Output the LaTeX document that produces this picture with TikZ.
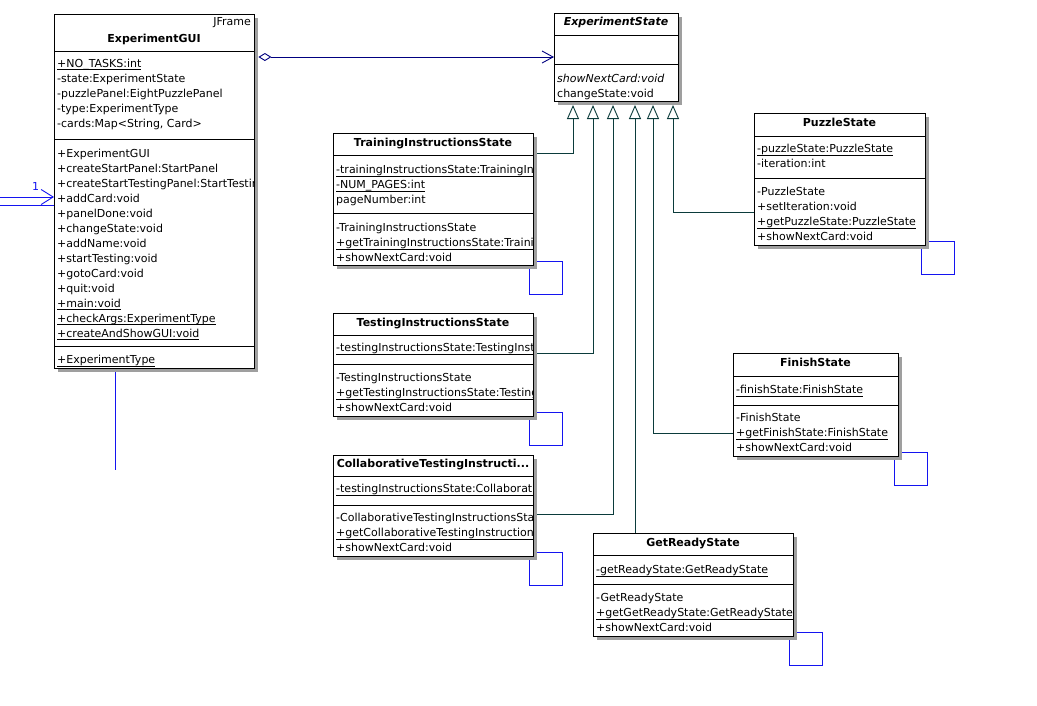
\documentclass[tikz,border=0pt]{standalone}
\usepackage{fontspec}
\setmainfont{DejaVu Sans}
\usetikzlibrary{arrows.meta,shadows}
\definecolor{tealline}{HTML}{0B3B3B}
\definecolor{loopblue}{HTML}{1414F0}
\definecolor{navyline}{HTML}{000080}
\newcommand\mul[1]{\setbox0\hbox{#1}\rlap{\rule[-2.9pt]{\wd0}{0.7pt}}\box0}
\newcounter{rw}
\newcommand\rowat[3]{\stepcounter{rw}\node[rowtxt] (rw\arabic{rw}) at (#1,#2) {#3};}
\tikzset{
 cls/.style={draw=black, line width=0.9pt, fill=white, anchor=north west, inner sep=0pt,
   drop shadow={shadow xshift=3.5pt, shadow yshift=-3.5pt, fill=gray!75, opacity=1}},
 rowtxt/.style={anchor=base west, inner sep=0pt, font=\fontsize{11}{13}\selectfont},
 hdr/.style={anchor=base, inner sep=0pt, font=\fontsize{11}{13}\selectfont\bfseries},
 sepline/.style={draw=black, line width=0.9pt},
 genline/.style={draw=tealline, line width=0.9pt,
   -{Triangle[open, length=14pt, width=12pt, line width=0.9pt, fill=white]}},
 selfloop/.style={draw=loopblue, line width=0.9pt},
}
\begin{document}
\begin{tikzpicture}[x=1pt,y=-1pt]
\fill[white] (0,0) rectangle (1037,705);
\useasboundingbox (0,0) rectangle (1037,705);

% box shapes (empty nodes first, to be referenced)
\path
 (54,14) node[cls, minimum width=200pt, minimum height=354pt, draw=none, fill=none, drop shadow={opacity=0}] (gui) {}
 (554,13) node[cls, minimum width=124pt, minimum height=88pt, draw=none, fill=none, drop shadow={opacity=0}] (es) {}
 (333,133) node[cls, minimum width=200pt, minimum height=132pt, draw=none, fill=none, drop shadow={opacity=0}] (tis) {}
 (333,313) node[cls, minimum width=200pt, minimum height=103pt, draw=none, fill=none, drop shadow={opacity=0}] (tes) {}
 (333,455) node[cls, minimum width=200pt, minimum height=101pt, draw=none, fill=none, drop shadow={opacity=0}] (cts) {}
 (754,113) node[cls, minimum width=171pt, minimum height=132pt, draw=none, fill=none, drop shadow={opacity=0}] (ps) {}
 (733,353) node[cls, minimum width=165pt, minimum height=103pt, draw=none, fill=none, drop shadow={opacity=0}] (fs) {}
 (593,533) node[cls, minimum width=200pt, minimum height=103pt, draw=none, fill=none, drop shadow={opacity=0}] (gr) {};

% self loops
\foreach \n in {tis,tes,cts,ps,fs,gr}
  \draw[selfloop] ([shift={(-4,-4)}]\n.south east) rectangle ++(33,33);

% generalization tips
\coordinate (g1) at (573,105);
\coordinate (g2) at (593,105);
\coordinate (g3) at (613,105);
\coordinate (g4) at (635,105);
\coordinate (g5) at (653,105);
\coordinate (g6) at (673,105);
\draw[genline] (tis.east |- 0,153) -| (g1);
\draw[genline] (tes.east |- 0,353) -| (g2);
\draw[genline] (cts.east |- 0,514) -| (g3);
\draw[genline] (gr.north -| g4) -- (g4);
\draw[genline] (fs.west |- 0,433) -| (g5);
\draw[genline] (ps.west |- 0,212) -| (g6);

% left incoming association
\coordinate (lin1) at (0,197);
\coordinate (lin2) at (0,205);
\draw[draw=loopblue, line width=0.9pt, -{Straight Barb[length=12pt, width=15pt, line width=0.9pt]}] (lin1) -- (gui.west |- lin1);
\draw[draw=loopblue, line width=0.9pt] (lin2) -- (gui.west |- lin2);
\node[anchor=base, inner sep=0pt, text=loopblue, font=\fontsize{11}{13}\selectfont] (mult1) at (35.5,190) {1};

% line below GUI
\coordinate (gb) at (115,470);
\draw[draw=loopblue, line width=0.9pt] ([yshift=-3.5pt]gui.south -| gb) -- (gb);

% real boxes
\foreach \n/\w/\h in {gui/200/354, es/124/88, tis/200/132, tes/200/103, cts/200/101, ps/171/132, fs/165/103, gr/200/103}
  \node[cls, minimum width=\w pt, minimum height=\h pt] (\n-b) at (\n.north west) {};

% aggregation
\draw[draw=navyline, line width=0.9pt, {Diamond[open, length=13pt, width=8pt, line width=0.9pt, fill=white]}-{Straight Barb[length=11pt, width=12pt, line width=0.9pt]}]
  ([xshift=3.5pt]gui.east |- 0,57) -- (es.west |- 0,57);

% ---------- ExperimentGUI ----------
\begin{scope}
\clip (gui.north west) rectangle (gui.south east);
\node[anchor=base east, inner sep=0pt, font=\fontsize{11}{13}\selectfont] (jf) at (251,25) {JFrame};
\node[hdr] (gui-t) at (154,42) {ExperimentGUI};
\draw[sepline] (gui.west |- 0,51) -- (gui.east |- 0,51);
\draw[sepline] (gui.west |- 0,139) -- (gui.east |- 0,139);
\draw[sepline] (gui.west |- 0,346) -- (gui.east |- 0,346);
\rowat{57}{67}{\mul{+NO\_TASKS:int}}
\rowat{57}{82}{-state:ExperimentState}
\rowat{57}{97}{-puzzlePanel:EightPuzzlePanel}
\rowat{57}{112}{-type:ExperimentType}
\rowat{57}{127}{-cards:Map<String, Card>}
\rowat{57}{157}{+ExperimentGUI}
\rowat{57}{172}{+createStartPanel:StartPanel}
\rowat{57}{187}{+createStartTestingPanel:StartTestingPanel}
\rowat{57}{202}{+addCard:void}
\rowat{57}{217}{+panelDone:void}
\rowat{57}{232}{+changeState:void}
\rowat{57}{247}{+addName:void}
\rowat{57}{262}{+startTesting:void}
\rowat{57}{277}{+gotoCard:void}
\rowat{57}{292}{+quit:void}
\rowat{57}{307}{\mul{+main:void}}
\rowat{57}{322}{\mul{+checkArgs:ExperimentType}}
\rowat{57}{337}{\mul{+createAndShowGUI:void}}
\rowat{57}{363.5}{\mul{+ExperimentType}}
\end{scope}

% ---------- ExperimentState ----------
\node[hdr, font=\fontsize{11}{13}\selectfont\bfseries\itshape] (es-t) at (616,25) {ExperimentState};
\draw[sepline] (es.west |- 0,35) -- (es.east |- 0,35);
\draw[sepline] (es.west |- 0,64) -- (es.east |- 0,64);
\rowat{557}{82.5}{\itshape showNextCard:void}
\rowat{557}{97}{changeState:void}

% ---------- TrainingInstructionsState ----------
\begin{scope}
\clip (tis.north west) rectangle (tis.south east);
\node[hdr] (tis-t) at (433,146) {TrainingInstructionsState};
\draw[sepline] (tis.west |- 0,155) -- (tis.east |- 0,155);
\draw[sepline] (tis.west |- 0,213) -- (tis.east |- 0,213);
\rowat{336}{173.5}{\mul{-trainingInstructionsState:TrainingInstructionsState}}
\rowat{336}{188.5}{\mul{-NUM\_PAGES:int}}
\rowat{336}{203.5}{pageNumber:int}
\rowat{336}{231.5}{-TrainingInstructionsState}
\rowat{336}{246.5}{\mul{+getTrainingInstructionsState:TrainingInstructionsState}}
\rowat{336}{261.5}{+showNextCard:void}
\end{scope}

% ---------- TestingInstructionsState ----------
\begin{scope}
\clip (tes.north west) rectangle (tes.south east);
\node[hdr] (tes-t) at (433,326) {TestingInstructionsState};
\draw[sepline] (tes.west |- 0,335) -- (tes.east |- 0,335);
\draw[sepline] (tes.west |- 0,364) -- (tes.east |- 0,364);
\rowat{336}{351.5}{\mul{-testingInstructionsState:TestingInstructionsState}}
\rowat{336}{381.5}{-TestingInstructionsState}
\rowat{336}{396.5}{\mul{+getTestingInstructionsState:TestingInstructionsState}}
\rowat{336}{411.5}{+showNextCard:void}
\end{scope}

% ---------- CollaborativeTestingInstructionsState ----------
\begin{scope}
\clip (cts.north west) rectangle (cts.south east);
\node[hdr] (cts-t) at (433,467) {CollaborativeTestingInstructi...};
\draw[sepline] (cts.west |- 0,476) -- (cts.east |- 0,476);
\draw[sepline] (cts.west |- 0,505) -- (cts.east |- 0,505);
\rowat{336}{492.5}{\mul{-testingInstructionsState:CollaborativeTestingInstructionsState}}
\rowat{336}{521.5}{-CollaborativeTestingInstructionsState}
\rowat{336}{536.5}{\mul{+getCollaborativeTestingInstructionsState:CollaborativeTestingInstructionsState}}
\rowat{336}{551.5}{+showNextCard:void}
\end{scope}

% ---------- PuzzleState ----------
\node[hdr] (ps-t) at (839.5,126) {PuzzleState};
\draw[sepline] (ps.west |- 0,136) -- (ps.east |- 0,136);
\draw[sepline] (ps.west |- 0,178) -- (ps.east |- 0,178);
\rowat{757}{152.5}{\mul{-puzzleState:PuzzleState}}
\rowat{757}{167.5}{-iteration:int}
\rowat{757}{195.5}{-PuzzleState}
\rowat{757}{210.5}{+setIteration:void}
\rowat{757}{225.5}{\mul{+getPuzzleState:PuzzleState}}
\rowat{757}{240.5}{+showNextCard:void}

% ---------- FinishState ----------
\node[hdr] (fs-t) at (815.5,366) {FinishState};
\draw[sepline] (fs.west |- 0,376) -- (fs.east |- 0,376);
\draw[sepline] (fs.west |- 0,405) -- (fs.east |- 0,405);
\rowat{736}{393.5}{\mul{-finishState:FinishState}}
\rowat{736}{421.5}{-FinishState}
\rowat{736}{436.5}{\mul{+getFinishState:FinishState}}
\rowat{736}{451.5}{+showNextCard:void}

% ---------- GetReadyState ----------
\begin{scope}
\clip (gr.north west) rectangle (gr.south east);
\node[hdr] (gr-t) at (693,546) {GetReadyState};
\draw[sepline] (gr.west |- 0,555) -- (gr.east |- 0,555);
\draw[sepline] (gr.west |- 0,584) -- (gr.east |- 0,584);
\rowat{596}{573.5}{\mul{-getReadyState:GetReadyState}}
\rowat{596}{601.5}{-GetReadyState}
\rowat{596}{616.5}{\mul{+getGetReadyState:GetReadyState}}
\rowat{596}{631.5}{+showNextCard:void}
\end{scope}
\end{tikzpicture}
\end{document}
